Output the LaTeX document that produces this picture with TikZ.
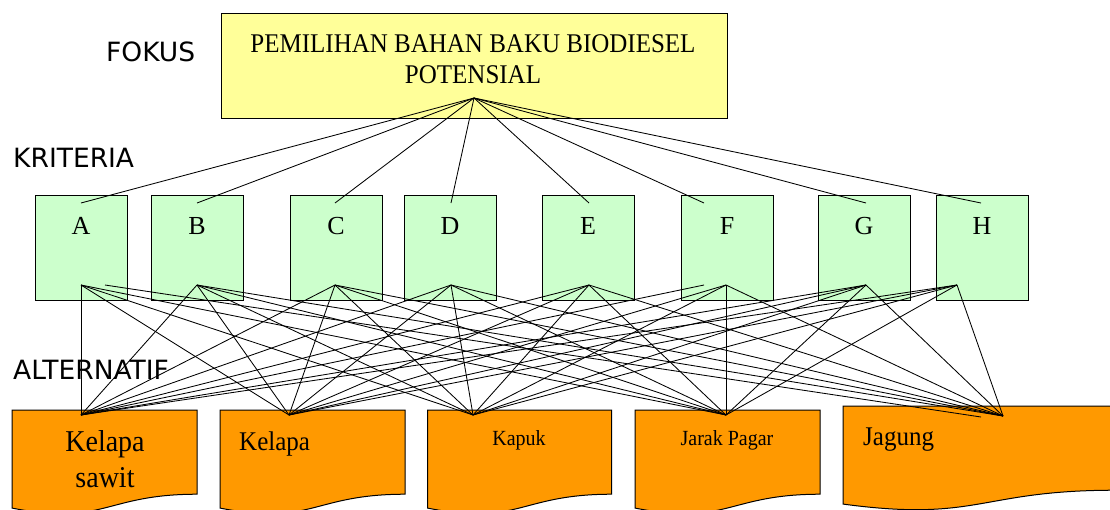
\documentclass[tikz,border=0pt]{standalone}
\usepackage{fontspec}
\setmainfont{Liberation Serif}
\newfontfamily\labelfont{DejaVu Sans}
\definecolor{focusyellow}{HTML}{FFFF99}
\definecolor{critgreen}{HTML}{CCFFCC}
\definecolor{altorange}{HTML}{FF9900}
\newcommand{\altshape}[5]{%
  \path[altbox] (#1,#2) -- ({#1+#3},#2) -- ({#1+#3},{#2+0.802*#4})
    .. controls ({#1+0.5*#3},{#2+0.802*#4}) and ({#1+0.5*#3},{#2+1.108*#4}) .. ({#1},{#2+0.934*#4}) -- cycle;
  \node[draw=none, inner sep=0, minimum width=#3pt, minimum height=#4pt, anchor=north west] (#5) at (#1,#2) {};}
\begin{document}
\begin{tikzpicture}[x=1pt,y=-1pt,
  link/.style={draw=black, line width=0.85pt},
  focusbox/.style={draw=black, line width=1pt, fill=focusyellow, inner sep=0, anchor=north west, minimum width=506pt, minimum height=105pt},
  critbox/.style={draw=black, line width=1pt, fill=critgreen, inner sep=0, anchor=north west, minimum width=92pt, minimum height=105pt},
  altbox/.style={draw=black, line width=1pt, fill=altorange},
  leveltext/.style={font=\labelfont\fontsize{26.5}{30}\selectfont, anchor=base west, inner sep=0},
  focustext/.style={font=\fontsize{25}{30}\selectfont, anchor=base, inner sep=0},
  crittext/.style={font=\fontsize{26}{30}\selectfont, anchor=base, inner sep=0},
  alttext/.style={anchor=base, inner sep=0}]
\clip (0,0) rectangle (1110,509);
\fill[white] (0,0) rectangle (1110,509);

% level labels
\node[leveltext] (lblfokus) at (106,61) {FOKUS};
\node[leveltext] (lblkrit) at (13,167) {KRITERIA};

% focus
\node[focusbox] (focus) at (221,13) {};
\node[focustext] (ft1) at (473,52) {\scalebox{1}[1.08]{PEMILIHAN BAHAN BAKU BIODIESEL}};
\node[focustext] (ft2) at (473,83) {\scalebox{1}[1.08]{POTENSIAL}};
\coordinate (fp) at (474,98);

% criteria
\foreach \n/\x/\tx/\bx in {A/35/81/81, B/151/197/197, C/290/335/335, D/404/451/451, E/542/589/589, F/681/704/726, G/818/866/866, H/936/981/957}{
  \node[critbox] (\n) at (\x,195) {};
  \node[crittext] (\n txt) at ({\x+46},234) {\n};
  \coordinate (\n t) at (\tx,203);
  \coordinate (\n b) at (\bx,285);
}
\coordinate (Ab2) at (105,285);
\coordinate (Fb2) at (704,285);

% alternatives
\altshape{12}{410}{185}{105}{alt1}
\altshape{220}{410}{185}{105}{alt2}
\altshape{427.5}{410}{184}{105}{alt3}
\altshape{635}{410}{185}{105}{alt4}
\altshape{843}{406}{272}{105}{alt5}
\coordinate (k1) at (81,415);
\coordinate (k2) at (289,415);
\coordinate (k3) at (473,415);
\coordinate (k4) at (726,415);
\coordinate (k5) at (1003,416);
\coordinate (k5b) at (981,417);

% focus -> criteria
\foreach \n in {A,B,C,D,E,F,G,H}{ \draw[link] (fp) -- (\n t); }

% criteria -> alternatives
\foreach \n in {B,C,D,E,G,H}{
  \foreach \k in {k1,k2,k3,k4,k5}{ \draw[link] (\n b) -- (\k); }
}
\draw[link] (Ab) -- (k1);
\draw[link] (Ab) -- (k2);
\draw[link] (Ab) -- (k3);
\draw[link] (Ab) -- (k4);
\draw[link] (Ab2) -- (k5b);
\draw[link] (Fb2) -- (k1);
\draw[link] (Fb) -- (k2);
\draw[link] (Fb) -- (k3);
\draw[link] (Fb) -- (k4);
\draw[link] (Fb) -- (k5);

\node[leveltext] (lblalt) at (13,379) {ALTERNATIF};

% alternative texts
\node[alttext, font=\fontsize{28}{34}\selectfont] (t1a) at (105,451) {\scalebox{1}[1.08]{Kelapa}};
\node[alttext, font=\fontsize{28}{34}\selectfont] (t1b) at (105,487) {\scalebox{1}[1.08]{sawit}};
\node[alttext, anchor=base west, font=\fontsize{25}{30}\selectfont] (t2) at (239,450) {\scalebox{1}[1.08]{Kelapa}};
\node[alttext, font=\fontsize{20}{24}\selectfont] (t3) at (519,445) {\scalebox{1}[1.08]{Kapuk}};
\node[alttext, font=\fontsize{20}{24}\selectfont] (t4) at (727,445) {\scalebox{1}[1.08]{Jarak Pagar}};
\node[alttext, anchor=base west, font=\fontsize{25}{30}\selectfont] (t5) at (863,445) {\scalebox{1}[1.08]{Jagung}};
\end{tikzpicture}
\end{document}
